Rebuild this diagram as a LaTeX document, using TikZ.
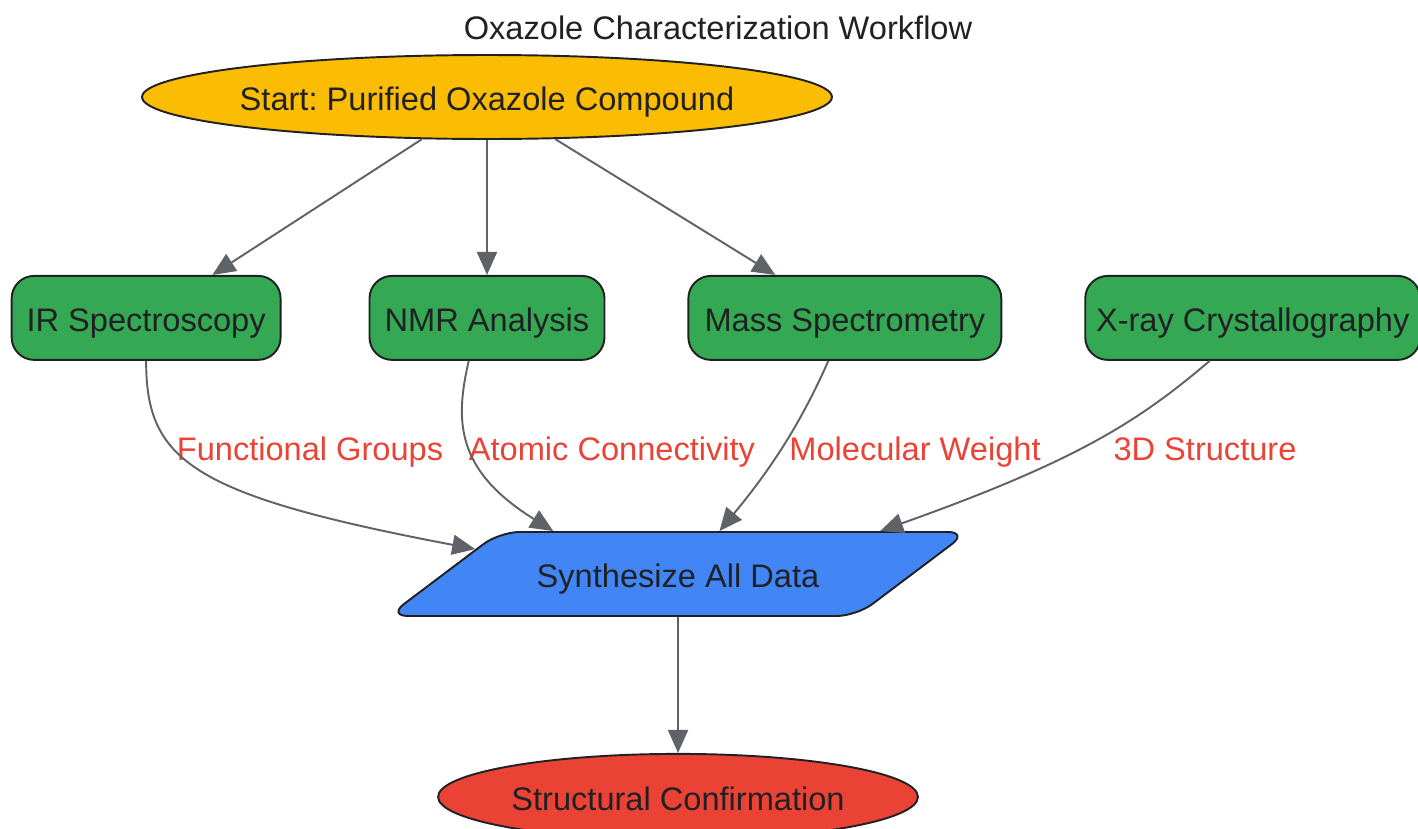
\documentclass[tikz,border=0pt]{standalone}
\usepackage{fontspec}
\setmainfont{Liberation Sans}
\frenchspacing
\usetikzlibrary{positioning,shapes.geometric,arrows.meta}
\definecolor{startyellow}{HTML}{FBBC04}
\definecolor{methodgreen}{HTML}{34A853}
\definecolor{mergeblue}{HTML}{4285F4}
\definecolor{endred}{HTML}{EA4335}
\definecolor{linegray}{HTML}{5F6368}
\definecolor{textdark}{HTML}{202124}
\tikzset{base node/.style={draw=textdark, line width=1.1pt, text=textdark, inner sep=0pt, text height=0.6cm, text depth=0.06cm, font=\fontsize{18.55}{22}\selectfont},
  start node/.style={base node, ellipse, inner xsep=-0.2cm, fill=startyellow, minimum width=13.8cm, minimum height=1.68cm},
  method node/.style={base node, rectangle, rounded corners=0.45cm, fill=methodgreen, minimum height=1.68cm},
  merge node/.style={base node, trapezium, trapezium left angle=37, trapezium right angle=143, trapezium stretches body, inner ysep=0.51cm, rounded corners=0.4cm, fill=mergeblue, minimum width=11.6cm},
  end node/.style={base node, ellipse, fill=endred, minimum width=9.6cm, minimum height=1.72cm},
  edge label/.style={text=endred, inner sep=0pt, text height=0.6cm, text depth=0.06cm, font=\fontsize{18.55}{22}\selectfont},
  edge line/.style={color=linegray, line width=1.1pt, -{Triangle[length=0.46cm, width=0.4cm]}},}

\begin{document}
\begin{tikzpicture}[x=0.02cm, y=-0.02cm]
        \useasboundingbox (0,0) rectangle (1418,829);
        % Nodes
        \node[text=textdark, font=\fontsize{18.55}{22}\selectfont] (title) at (718,28) {Oxazole Characterization Workflow};
        \node[start node] (start) at (487,97) {Start: Purified Oxazole Compound};
        \node[method node, minimum width=4.7cm] [below = 2.7cm of start] (nmr) {NMR Analysis};
        \node[method node, minimum width=5.38cm] [left = 1.74cm of nmr] (ir) {IR Spectroscopy};
        \node[method node, minimum width=6.26cm] [right = 1.64cm of nmr] (mass) {Mass Spectrometry};
        \node[method node, minimum width=6.7cm] [right = 1.64cm of mass] (xray) {X-ray Crystallography};
        \node[merge node] (synth) at (678,574) {Synthesize All Data};
        \node[end node] [below = 2.72cm of synth] (conf) {Structural Confirmation};
        % Labels
        \node[edge label] (fg) at (310,447) {Functional Groups};
        \node[edge label] (ac) at (612,447) {Atomic Connectivity};
        \node[edge label] (mw) at (915,447) {Molecular Weight};
        \node[edge label] (ds) at (1205,447) {3D Structure};
        % Paths
        \path[edge line]
        (start) edge (ir)
        (start) edge (nmr)
        (start) edge (mass)
        (synth) edge (conf);
        \draw[edge line] (ir.south) .. controls (146,460) and (190,495) .. (synth.173);
        \draw[edge line] (nmr.247) .. controls (455,420) and (455,470) .. (synth.161);
        \draw[edge line] (mass.249) .. controls (800,425) and (770,470) .. (synth.46);
        \draw[edge line] (xray.225) .. controls (1140,420) and (1080,460) .. (synth.12.6);
\end{tikzpicture}
\end{document}
